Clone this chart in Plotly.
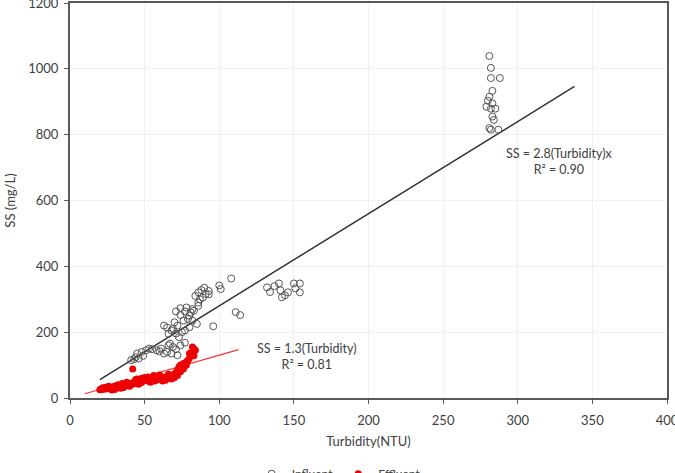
import plotly.graph_objects as go

# Influent (open circles)
inf_x = [281, 282, 282, 288, 283, 281, 280, 279, 282, 285, 283, 284, 282, 281, 287, 283,
         132, 134, 140, 141, 142, 146, 150, 151, 154, 154, 144, 137,
         108, 111, 114, 100, 101, 96,
         86, 88, 91, 93, 87, 86, 89, 93, 90, 84,
         74, 71, 77, 80, 83, 86, 82, 63, 65, 69, 72, 76, 79, 82, 85, 80, 77, 75, 71, 68, 66, 70, 74, 78, 81, 73,
         58, 61, 65, 68, 71, 74, 77, 69, 63, 66, 60, 72, 67,
         41, 44, 46, 45, 48, 51, 49, 43, 55, 53]
inf_y = [1039, 1003, 972, 972, 933, 915, 903, 885, 879, 879, 855, 845, 815, 820, 815, 895,
         336, 322, 348, 327, 306, 321, 348, 333, 321, 348, 312, 340,
         363, 261, 252, 342, 331, 218,
         321, 328, 316, 315, 300, 290, 305, 325, 335, 310,
         273, 263, 263, 250, 265, 280, 270, 220, 214, 210, 220, 235, 240, 235, 225, 215, 205, 200, 196, 205, 195, 230, 252, 275, 260, 185,
         145, 150, 140, 135, 148, 160, 168, 155, 135, 160, 142, 130, 165,
         115, 124, 120, 135, 140, 145, 128, 118, 148, 150]

# Effluent (filled red)
eff_x = [20, 21, 22, 23, 24, 25, 26, 27, 28, 29, 30, 31, 32, 33, 34, 35, 36, 37, 38, 39,
         40, 41, 42, 43, 44, 45, 46, 47, 48, 49, 50, 51, 52, 53, 54, 55, 56, 57, 58, 59,
         60, 61, 62, 63, 64, 65, 66, 67, 68, 69, 70, 71, 72, 73, 74, 75, 76, 77, 78, 79,
         80, 81, 82, 83, 84, 82, 80, 76, 74, 72, 70, 66, 62, 58, 54, 50, 46, 44, 42, 40,
         38, 36, 34, 32, 30, 28, 26, 24, 22, 30, 35, 45, 48, 52, 56, 60, 64, 68, 83, 78]
eff_y = [25, 28, 26, 30, 27, 29, 32, 28, 31, 34, 30, 33, 36, 32, 38, 35, 40, 37, 42, 39,
         44, 41, 46, 43, 48, 45, 50, 52, 47, 55, 53, 58, 55, 50, 57, 60, 55, 52, 58, 62,
         56, 60, 64, 58, 62, 66, 60, 64, 70, 66, 72, 78, 85, 95, 100, 92, 105, 98, 110, 115,
         120, 130, 140, 150, 145, 155, 135, 88, 80, 68, 62, 72, 52, 66, 48, 62, 42, 56, 88, 36,
         48, 32, 30, 40, 36, 24, 36, 33, 31, 26, 44, 58, 60, 64, 68, 70, 54, 58, 128, 100]

# Trend lines (endpoints of fitted lines)
inf_fit_x = [20, 338]
inf_slope = 2.8
eff_fit_x = [10, 113]
eff_slope = 1.3

x_ticks = [0, 50, 100, 150, 200, 250, 300, 350, 400]
y_ticks = [0, 200, 400, 600, 800, 1000, 1200]

FONT = "Lato, 'Open Sans', sans-serif"
txt = "#404040"

fig = go.Figure()
fig.add_trace(go.Scatter(
    x=inf_fit_x, y=[inf_slope * v for v in inf_fit_x], mode="lines",
    line=dict(color="#333333", width=1.5), showlegend=False, hoverinfo="skip"))
fig.add_trace(go.Scatter(
    x=eff_fit_x, y=[eff_slope * v for v in eff_fit_x], mode="lines",
    line=dict(color="#ff3030", width=1.2), showlegend=False, hoverinfo="skip"))
fig.add_trace(go.Scatter(
    x=inf_x, y=inf_y, mode="markers", name="Influent",
    marker=dict(symbol="circle-open", size=7, color="#555555", line=dict(width=1))))
fig.add_trace(go.Scatter(
    x=eff_x, y=eff_y, mode="markers", name="Effluent",
    marker=dict(symbol="circle", size=7, color="#ee0000")))

fig.add_annotation(x=0.82, y=0.6, xref="paper", yref="paper", xanchor="center", yanchor="middle",
                   text="SS = 2.8(Turbidity)x<br>R² = 0.90", showarrow=False,
                   font=dict(family=FONT, size=12.5, color=txt), align="center")
fig.add_annotation(x=0.397, y=0.104, xref="paper", yref="paper", xanchor="center", yanchor="middle",
                   text="SS = 1.3(Turbidity)<br>R² = 0.81", showarrow=False,
                   font=dict(family=FONT, size=12.5, color=txt), align="center")

axis_common = dict(showline=True, linecolor="#595959", linewidth=2, mirror=True,
                   showgrid=True, gridcolor="#f1f1ea", gridwidth=1, zeroline=False,
                   ticks="outside", ticklen=4, tickcolor="#595959",
                   ticklabeloverflow="allow",
                   tickfont=dict(family=FONT, size=13, color=txt))

fig.update_layout(
    width=675, height=473,
    margin=dict(l=70, r=8, t=3, b=75, autoexpand=False),
    paper_bgcolor="white", plot_bgcolor="white",
    font=dict(family=FONT, color=txt),
    xaxis=dict(range=[0, 400], tickvals=x_ticks, automargin=False, ticklabelstandoff=5,
               title=dict(text="Turbidity(NTU)", font=dict(family=FONT, size=13, color=txt), standoff=10),
               **axis_common),
    yaxis=dict(range=[0, 1200], tickvals=y_ticks, automargin=False, ticklabelstandoff=3,
               title=dict(text="SS (mg/L)", font=dict(family=FONT, size=13, color=txt), standoff=10),
               **axis_common),
    legend=dict(orientation="h", x=0.45, xanchor="center", y=-0.155, yanchor="top",
                itemwidth=30, font=dict(family=FONT, size=12, color=txt),
                bgcolor="rgba(0,0,0,0)"),
)

fig.write_html("out.html")
